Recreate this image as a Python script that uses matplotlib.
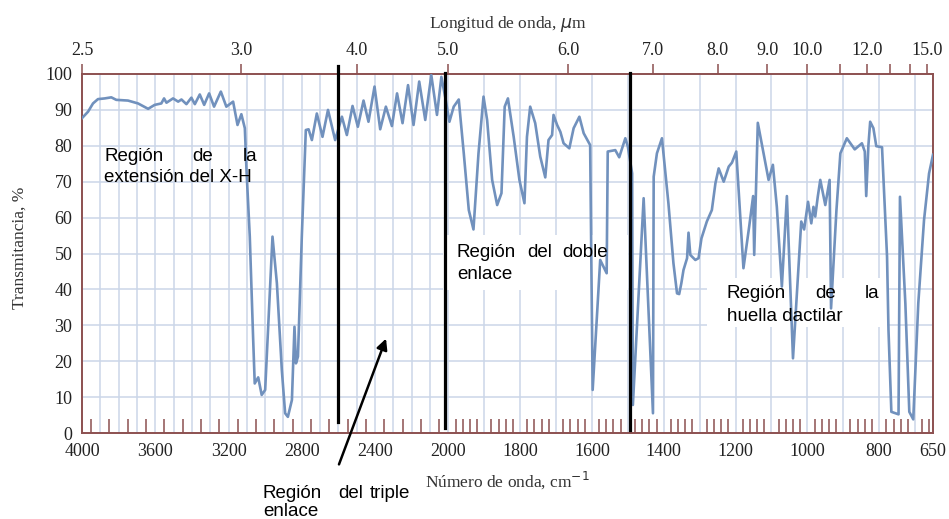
import numpy as np
import matplotlib.pyplot as plt
from matplotlib.patches import Rectangle

# Espectro IR (número de onda en cm-1, transmitancia en %)
wn = [4000, 3967, 3940, 3913, 3876, 3840, 3813, 3749, 3694, 3639, 3603, 3567,
      3552, 3539, 3503, 3475, 3457, 3430, 3403, 3384, 3357, 3333, 3306, 3279,
      3242, 3212, 3175, 3151, 3130, 3111, 3102, 3084, 3066, 3057, 3038, 3019,
      3000, 2960, 2936, 2909, 2891, 2876, 2854, 2840, 2832, 2821, 2800, 2778,
      2763, 2745, 2718, 2687, 2657, 2618, 2581, 2554, 2523, 2494, 2463, 2436,
      2403, 2372, 2341, 2308, 2280, 2250, 2220, 2190, 2159, 2126, 2093, 2062,
      2038, 2015,
      1997, 1985, 1971, 1957, 1943, 1930, 1916, 1902, 1892, 1878, 1864, 1852,
      1843, 1834, 1818, 1802, 1788, 1781, 1772, 1758, 1744, 1730, 1721, 1711,
      1707, 1697, 1688, 1679, 1663, 1651, 1635, 1623, 1605, 1598, 1577, 1559,
      1556, 1535, 1524, 1507, 1500, 1488, 1486, 1456, 1430, 1428, 1419, 1405,
      1387, 1373, 1363, 1357, 1351, 1345, 1335, 1331, 1326, 1312, 1303, 1295,
      1280, 1266, 1256, 1247, 1233, 1219, 1210, 1198, 1178, 1162, 1151, 1148,
      1138, 1108, 1096, 1085, 1071, 1057, 1040, 1017, 1009, 998, 989, 983,
      978, 971, 964, 950, 938, 934, 919, 908, 890, 868, 848, 840,
      836, 830, 825, 816, 808, 792, 778, 774, 766, 746, 742, 727,
      716, 705, 691, 675, 661, 650]
trans = [87.7, 89.5, 91.8, 93.0, 93.2, 93.5, 92.8, 92.6, 91.8, 90.3, 91.4, 91.8,
         93.2, 92.0, 93.2, 92.3, 92.9, 91.6, 93.4, 91.6, 94.3, 91.4, 94.6, 90.9,
         95.1, 90.9, 92.3, 85.8, 88.8, 84.9, 73.3, 54.7, 26.8, 13.8, 15.5, 10.6,
         12.0, 54.7, 41.7, 17.5, 5.5, 4.5, 9.2, 29.6, 19.4, 21.3, 54.7, 84.4,
         84.6, 81.6, 89.0, 82.5, 90.0, 81.6, 88.1, 83.0, 91.1, 85.3, 92.6, 86.7,
         96.5, 84.6, 90.9, 85.5, 94.6, 86.3, 96.9, 85.8, 97.9, 87.2, 99.7, 88.6,
         99.2, 93.0,
         86.7, 90.9, 92.9, 77.9, 62.1, 56.7, 77.9, 93.7, 87.2, 70.5, 63.5, 66.8,
         90.9, 93.2, 82.5, 70.5, 64.0, 82.5, 90.9, 86.3, 77.0, 71.2, 81.6, 83.0,
         88.6, 85.8, 83.9, 80.7, 79.3, 84.9, 88.1, 83.5, 80.2, 12.0, 48.2, 44.5,
         78.4, 78.8, 76.8, 82.1, 79.8, 72.3, 7.8, 65.4, 5.5, 71.4, 77.9, 82.1,
         64.0, 47.3, 38.9, 38.7, 41.7, 45.4, 48.7, 55.8, 49.6, 48.2, 48.7, 54.2,
         58.9, 62.1, 69.6, 73.7, 70.0, 74.2, 75.3, 78.4, 45.9, 57.5, 66.0, 49.6,
         86.4, 70.5, 74.7, 63.0, 40.8, 66.0, 20.8, 58.9, 56.7, 64.4, 58.4, 63.0,
         60.3, 65.8, 70.5, 63.5, 70.5, 34.7, 62.0, 77.9, 82.1, 79.0, 80.7, 78.4,
         66.0, 80.0, 86.7, 84.9, 79.9, 79.6, 49.1, 28.7, 5.9, 5.2, 65.8, 36.1,
         5.9, 3.8, 36.1, 59.3, 72.3, 77.5]

bottom_ticks = [4000, 3600, 3200, 2800, 2400, 2000, 1800, 1600, 1400, 1200, 1000, 800, 650]
top_labels = ['2.5', '3.0', '4.0', '5.0', '6.0', '7.0', '8.0', '9.0', '10.0', '', '12.0', '', '', '15.0']
top_ticks_cm = [4000, 3130, 2500, 2000, 1667, 1429, 1250, 1111, 1000, 909, 833, 769, 714, 667]
region_lines_cm = [2600, 2020, 1495]

# escala con cambio de factor en 2000 cm-1
RATIO = 1.96


def fwd(v):
    v = np.asarray(v, dtype=float)
    return np.where(v >= 2000, 2000 + (v - 2000) / RATIO, v)


def inv(u):
    u = np.asarray(u, dtype=float)
    return np.where(u >= 2000, 2000 + (u - 2000) * RATIO, u)


W, H = 949, 519
brown = '#8c5050'
blue = '#7191bd'
gridc = '#cbd6e8'
serif = 'Liberation Serif'
sans = 'Liberation Sans'

fig = plt.figure(figsize=(W / 100, H / 100), dpi=100)
ax = fig.add_axes([82 / W, 1 - 433 / H, 851 / W, 359 / H])
ax.set_xscale('function', functions=(fwd, inv))
ax.set_xlim(4000, 650)
ax.set_ylim(0, 100)


def afrac(x, y):
    # píxeles de la imagen -> fracción de los ejes
    return (x - 82) / 851, (433 - y) / 359


def ffrac(x, y):
    return x / W, 1 - y / H


# rejilla
ax.vlines(np.arange(700, 4000, 100), 0, 100, color=gridc, lw=1.1, zorder=1)
ax.hlines(np.arange(10, 100, 10), 650, 4000, color=gridc, lw=1.1, zorder=1)

# cajas blancas detrás de los textos
x0, y0 = afrac(443, 290)
x1, y1 = afrac(628, 235)
ax.add_patch(Rectangle((x0, y0), x1 - x0, y1 - y0, transform=ax.transAxes,
                       facecolor='white', edgecolor='none', zorder=2))
x0, y0 = afrac(707, 327)
x1, y1 = afrac(887, 278)
ax.add_patch(Rectangle((x0, y0), x1 - x0, y1 - y0, transform=ax.transAxes,
                       facecolor='white', edgecolor='none', zorder=2))

ax.plot(wn, trans, color=blue, lw=1.9, zorder=3, solid_joinstyle='round')

# líneas verticales de las regiones
ax.plot([region_lines_cm[0]] * 2, [3.1, 102.2], color='black', lw=2.3, zorder=4, clip_on=False)
ax.plot([region_lines_cm[1]] * 2, [1.4, 100.3], color='black', lw=2.3, zorder=4, clip_on=False)
ax.plot([region_lines_cm[2]] * 2, [0.8, 100.3], color='black', lw=2.3, zorder=4, clip_on=False)

for s in ax.spines.values():
    s.set_color(brown)
    s.set_linewidth(1.4)

ax.set_xticks(bottom_ticks)
ax.set_xticklabels([str(t) for t in bottom_ticks])
minor = [v for v in range(2050, 4000, 100)] + [v for v in range(660, 2000, 20) if v % 100 != 0]
ax.set_xticks(minor, minor=True)
ax.tick_params(axis='x', which='major', length=0, pad=7, labelsize=13, labelcolor='#222222')
ax.tick_params(axis='x', which='minor', direction='in', length=10, width=1.1, color=brown)
ax.set_yticks(np.arange(0, 101, 10))
ax.tick_params(axis='y', length=0, pad=7, labelsize=13, labelcolor='#222222')
for lab in ax.get_xticklabels() + ax.get_yticklabels():
    lab.set_fontfamily(serif)

ax.set_xlabel('Número de onda, cm$^{-1}$', fontfamily=serif, fontsize=12.5, color='#333333')
ax.xaxis.set_label_coords(0.5, -0.1)
ax.set_ylabel('Transmitancia, %', fontfamily=serif, fontsize=12.5, color='#333333')
ax.yaxis.set_label_coords(-0.064, 0.515)

# eje superior en longitud de onda
ax2 = ax.twiny()
ax2.set_xscale('function', functions=(fwd, inv))
ax2.set_xlim(4000, 650)
ax2.set_xticks(top_ticks_cm)
ax2.set_xticklabels(top_labels, fontfamily=serif)
ax2.tick_params(axis='x', direction='out', length=7, width=1.1, color=brown,
                pad=4, labelsize=13, labelcolor='#222222')
ax2.xaxis.set_minor_locator(plt.NullLocator())
for s in ax2.spines.values():
    s.set_visible(False)
ax2.set_xlabel('Longitud de onda, $\\mu$m', fontfamily=serif, fontsize=12.5, color='#333333')
ax2.xaxis.set_label_coords(0.5, 1.128)

# textos de las regiones
tk = dict(fontfamily=sans, fontsize=13.5, color='black', va='baseline', ha='left')
for word, x in [('Región', 104), ('de', 192), ('la', 243)]:
    fig.text(*ffrac(x, 161), word, **tk)
fig.text(*ffrac(104, 182), 'extensión del X-H', **tk)

for word, x in [('Región', 457), ('del', 527), ('doble', 562)]:
    fig.text(*ffrac(x, 257), word, **tk)
fig.text(*ffrac(457, 279), 'enlace', **tk)

for word, x in [('Región', 727), ('de', 815), ('la', 865)]:
    fig.text(*ffrac(x, 298), word, **tk)
fig.text(*ffrac(727, 321), 'huella dactilar', **tk)

for word, x in [('Región', 263), ('del', 338), ('triple', 370)]:
    fig.text(*ffrac(x, 498), word, **tk)
fig.text(*ffrac(263, 516), 'enlace', **tk)

ax.annotate('', xy=ffrac(387, 336), xytext=ffrac(338, 467),
            xycoords='figure fraction', textcoords='figure fraction',
            arrowprops=dict(arrowstyle='-|>', color='black', lw=1.8, mutation_scale=16),
            annotation_clip=False, zorder=5)

fig.savefig('out.png', dpi=100)
